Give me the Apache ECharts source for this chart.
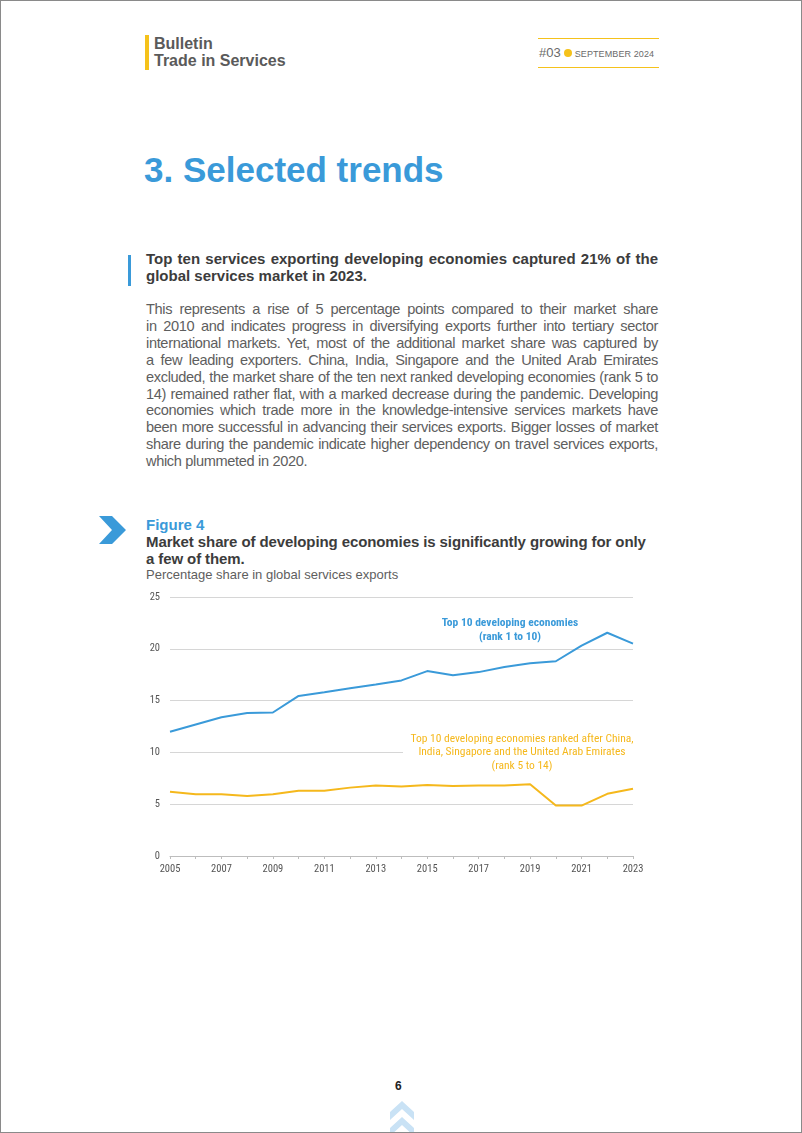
<!DOCTYPE html>
<html>
<head>
<meta charset="utf-8">
<script src="https://cdn.jsdelivr.net/npm/echarts@6/dist/echarts.min.js"></script>
<style>
html,body{margin:0;padding:0;background:#fff;}
#page{position:relative;width:800px;height:1131px;border:1px solid #8a8a8a;overflow:hidden;font-family:"Liberation Sans",Arial,sans-serif;color:#575757;}
.abs{position:absolute;}
#hbar{left:144px;top:34px;width:4px;height:35px;background:#f5c21b;}
#htitle{left:153px;top:34px;font-size:16px;font-weight:bold;line-height:17px;color:#5a5a5a;}
#hl1{left:537px;top:37px;width:121px;height:1px;background:#f5c21b;}
#hl2{left:537px;top:66px;width:121px;height:1px;background:#f5c21b;}
#issue{left:538px;top:44px;font-size:13px;color:#6a6a6a;white-space:nowrap;}
#issue .dot{display:inline-block;width:8px;height:8px;border-radius:50%;background:#f5c21b;margin:0 3px 0 3px;vertical-align:0px;}
#issue .date{font-size:9px;letter-spacing:0.1px;}
#sec{left:143px;top:149px;font-size:35px;font-weight:bold;color:#3a9ad9;letter-spacing:0px;}
#qbar{left:127px;top:254px;width:3px;height:31px;background:#3a9ad9;}
#lead{left:145px;top:249px;width:512px;font-size:15px;font-weight:bold;line-height:17px;color:#3c3c3c;text-align:justify;text-align-last:left;}
#body{left:145px;top:300px;width:512px;font-size:14.6px;line-height:16.9px;color:#5e5e5e;letter-spacing:-0.35px;}
#body div{text-align:justify;text-align-last:justify;}
#body div.last{text-align-last:left;}
#fig{left:145px;top:515px;font-size:15px;font-weight:bold;color:#3a9ad9;}
#ftitle{left:145px;top:532px;width:520px;font-size:15px;font-weight:bold;line-height:17px;color:#3c3c3c;letter-spacing:-0.1px;}
#fsub{left:145px;top:566px;font-size:13px;color:#5e5e5e;}
#pnum{left:394px;top:1078px;font-size:12px;font-weight:bold;color:#222;}
#chart{left:120px;top:585px;width:540px;height:300px;}
</style>
</head>
<body>
<div id="page">
  <div class="abs" id="hbar"></div>
  <div class="abs" id="htitle">Bulletin<br>Trade in Services</div>
  <div class="abs" id="hl1"></div>
  <div class="abs" id="hl2"></div>
  <div class="abs" id="issue">#03<span class="dot"></span><span class="date">SEPTEMBER 2024</span></div>
  <div class="abs" id="sec">3. Selected trends</div>
  <div class="abs" id="qbar"></div>
  <div class="abs" id="lead">Top ten services exporting developing economies captured 21% of the global services market in 2023.</div>
  <div class="abs" id="body">
    <div>This represents a rise of 5 percentage points compared to their market share</div>
    <div>in 2010 and indicates progress in diversifying exports further into tertiary sector</div>
    <div>international markets. Yet, most of the additional market share was captured by</div>
    <div>a few leading exporters. China, India, Singapore and the United Arab Emirates</div>
    <div>excluded, the market share of the ten next ranked developing economies (rank 5 to</div>
    <div>14) remained rather flat, with a marked decrease during the pandemic. Developing</div>
    <div>economies which trade more in the knowledge-intensive services markets have</div>
    <div>been more successful in advancing their services exports. Bigger losses of market</div>
    <div>share during the pandemic indicate higher dependency on travel services exports,</div>
    <div class="last">which plummeted in 2020.</div>
  </div>
  <svg class="abs" style="left:97px;top:514px" width="30" height="30" viewBox="0 0 30 30"><polygon points="1,1 14,1 28,15 14,29 1,29 14,15" fill="#3a9ad9"/></svg>
  <div class="abs" id="fig">Figure 4</div>
  <div class="abs" id="ftitle">Market share of developing economies is significantly growing for only<br>a few of them.</div>
  <div class="abs" id="fsub">Percentage share in global services exports</div>
  <div class="abs" id="chart"></div>
  <div class="abs" id="pnum">6</div>
  <svg class="abs" style="left:388px;top:1098px" width="26" height="35" viewBox="0 0 26 35"><polygon points="13,2 25,13 25,21 13,10 1,21 1,13" fill="#c9e2f5"/><polygon points="13,18 25,29 25,37 13,26 1,37 1,29" fill="#c9e2f5"/></svg>
</div>
<script>
var years = ['2005','2006','2007','2008','2009','2010','2011','2012','2013','2014','2015','2016','2017','2018','2019','2020','2021','2022','2023'];
var top10 = [12.0,12.7,13.4,13.8,13.85,15.45,15.8,16.2,16.55,16.95,17.85,17.45,17.75,18.25,18.6,18.8,20.3,21.55,20.5];
var rank5to14 = [6.2,5.95,5.97,5.8,5.95,6.3,6.3,6.6,6.8,6.7,6.85,6.75,6.8,6.8,6.93,4.87,4.87,6.0,6.5];
var yTicks = [0,5,10,15,20,25];
var labelTop10 = 'Top 10 developing economies\n(rank 1 to 10)';
var labelRank = 'Top 10 developing economies ranked after China,\nIndia, Singapore and the United Arab Emirates\n(rank 5 to 14)';

var narrow = '"Liberation Sans Narrow","Arial Narrow","Roboto Condensed","Liberation Sans",sans-serif';
var chart = echarts.init(document.getElementById('chart'), null, {renderer:'canvas'});
chart.setOption({
  animation:false,
  grid:{left:49,top:11,width:463,height:259,containLabel:false},
  xAxis:{
    type:'category', data:years, boundaryGap:false,
    axisLine:{lineStyle:{color:'#bdbdbd',width:1}},
    axisTick:{show:true,interval:0,length:3,lineStyle:{color:'#bdbdbd'}},
    axisLabel:{interval:1,color:'#555',fontSize:10.5,fontFamily:narrow,margin:8}
  },
  yAxis:{
    type:'value', min:yTicks[0], max:yTicks[yTicks.length-1], interval:5,
    axisLine:{show:false}, axisTick:{show:false},
    splitLine:{lineStyle:{color:'#d6d6d6',width:1}},
    axisLabel:{color:'#555',fontSize:10.5,fontFamily:narrow,margin:10}
  },
  series:[
    {type:'line',name:'top10',data:top10,showSymbol:false,lineStyle:{color:'#3a9ad9',width:2},itemStyle:{color:'#3a9ad9'},z:3},
    {type:'line',name:'rank5to14',data:rank5to14,showSymbol:false,lineStyle:{color:'#f5b81c',width:2},itemStyle:{color:'#f5b81c'},z:3}
  ],
  graphic:[
    {type:'rect',z:5,shape:{x:282,y:162,width:236,height:9},style:{fill:'#fff'}},
    {type:'text',x:389,y:30,z:10,style:{text:labelTop10,fill:'#3a9ad9',font:'bold 11.5px '+narrow,align:'center',verticalAlign:'top',lineHeight:14}},
    {type:'text',x:401,y:146,z:10,style:{text:labelRank,fill:'#f5b81c',font:'11.5px '+narrow,align:'center',verticalAlign:'top',lineHeight:13.5}}
  ]
});
</script>
</body>
</html>
